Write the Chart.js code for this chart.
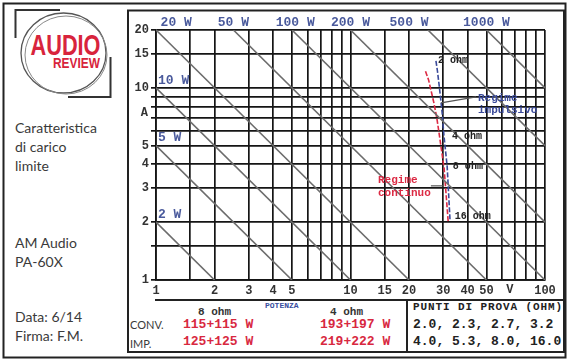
<!DOCTYPE html>
<html>
<head>
<meta charset="utf-8">
<script src="https://cdn.jsdelivr.net/npm/chart.js@4.4.1/dist/chart.umd.min.js"></script>
<style>
  html, body { margin: 0; padding: 0; background: #fff; }
  #wrap { position: relative; width: 569px; height: 361px; overflow: hidden; }
  #frame, #chart { position: absolute; left: 0; top: 0; }
  .t { position: absolute; white-space: nowrap; line-height: 16px; }
  .side { font-family: Lato, "Noto Sans", sans-serif; font-size: 14px; color: #3a3a3a; line-height: 19px; }
  .mono { font-family: "Liberation Mono", "DejaVu Sans Mono", monospace; font-weight: bold; }
  .red { color: #d8283f; }
</style>
</head>
<body>
<div id="wrap">
  <svg id="frame" width="569" height="361">
    <rect x="3.5" y="3.5" width="562" height="354" fill="none" stroke="#222" stroke-width="2"/>
    <rect x="128" y="10.5" width="436" height="341.5" fill="none" stroke="#222" stroke-width="2"/>
    <line x1="155" y1="300" x2="564" y2="300" stroke="#222" stroke-width="2"/>
    <line x1="407" y1="300" x2="407" y2="352" stroke="#222" stroke-width="2"/>
    <!-- logo -->
    <path d="M60 10 H15.5 V38" fill="none" stroke="#333" stroke-width="2"/>
    <path d="M110.5 57 V97 H68" fill="none" stroke="#333" stroke-width="2"/>
    <ellipse cx="63.5" cy="53" rx="42.5" ry="40" fill="none" stroke="#555" stroke-width="1.3"/>
    <ellipse cx="66" cy="55" rx="41" ry="39" fill="none" stroke="#888" stroke-width="1"/>
    <text x="30.5" y="55" textLength="70" lengthAdjust="spacingAndGlyphs" font-family="Liberation Sans, Arial, sans-serif" font-weight="bold" font-size="30" fill="#d8243c">AUDIO</text>
    <text x="53" y="68" textLength="47" lengthAdjust="spacingAndGlyphs" font-family="Liberation Sans, Arial, sans-serif" font-weight="bold" font-size="15" fill="#d8243c">REVIEW</text>
  </svg>

  <div class="t side" style="left:15px; top:118px;">Caratteristica<br>di carico<br>limite</div>
  <div class="t side" style="left:15px; top:233px;">AM Audio<br>PA-60X</div>
  <div class="t side" style="left:15px; top:307px;">Data: 6/14<br>Firma: F.M.</div>

  <div class="t mono" style="left:198px; top:304px; font-size:11px; color:#333;">8 ohm</div>
  <div class="t mono" style="left:265px; top:298px; font-size:8px; color:#3a4fa0;">POTENZA</div>
  <div class="t mono" style="left:330px; top:304px; font-size:11px; color:#333;">4 ohm</div>
  <div class="t mono" style="left:413px; top:299px; font-size:11px; letter-spacing:0.9px; color:#222;">PUNTI DI PROVA (OHM)</div>

  <div class="t side" style="left:130px; top:315px; font-size:11px; line-height:19px;">CONV.<br>IMP.</div>
  <div class="t mono red" style="left:183px; top:317px; font-size:13px;">115+115 W</div>
  <div class="t mono red" style="left:320px; top:317px; font-size:13px;">193+197 W</div>
  <div class="t mono red" style="left:183px; top:334px; font-size:13px;">125+125 W</div>
  <div class="t mono red" style="left:320px; top:334px; font-size:13px;">219+222 W</div>
  <div class="t mono" style="left:413px; top:317px; font-size:13px; color:#222;">2.0, 2.3, 2.7, 3.2</div>
  <div class="t mono" style="left:413px; top:334px; font-size:13px; color:#222;">4.0, 5.3, 8.0, 16.0</div>

  <canvas id="chart" width="569" height="361"></canvas>
</div>

<script>
// grid lines and tick labels
const xGrid = [1, 1.5, 2, 3, 4, 5, 6, 7, 8, 9, 10, 15, 20, 30, 40, 50, 60, 70, 80, 90, 100];
const xLabels = ['1', '', '2', '3', '4', '5', '', '', '', '', '10', '15', '20', '30', '40', '50', '', '', '', '', '100'];
const yGrid = [1, 1.5, 2, 3, 4, 5, 6, 7, 8, 9, 10, 15, 20];
const yLabels = ['1', '', '2', '3', '4', '5', '', '', '', '', '10', '15', '20'];

// constant power lines (watts), end points as [volts, amps]
const powerWatts = [2, 5, 10, 20, 50, 100, 200, 500, 1000];
const powerStart = [[1, 2], [1, 5], [1, 10], [1, 20], [2.5, 20], [5, 20], [10, 20], [25, 20], [50, 20]];
const powerEnd = [[2, 1], [5, 1], [10, 1], [20, 1], [50, 1], [100, 1], [100, 2], [100, 5], [100, 10]];

// measured limit curves at the test loads
const testOhms = [2.0, 2.3, 2.7, 3.2, 4.0, 5.3, 8.0, 16.0];
const impVolts = [27.5, 28.0, 28.5, 29.0, 29.6, 30.2, 31.4, 32.5];
const impAmps = [13.8, 12.2, 10.5, 9.0, 7.4, 5.7, 3.9, 2.03];
const contVolts = [24.3, 25.2, 26.0, 26.8, 27.8, 28.8, 30.3, 31.8];
const contAmps = [12.2, 11.0, 9.6, 8.4, 6.95, 5.45, 3.8, 2.0];

const MONO = '"Liberation Mono", "DejaVu Sans Mono", monospace';
const BLUE = '#3a4a9a';
const RED = '#dc2a44';

const powerDatasets = powerWatts.map((w, i) => ({
  label: w + ' W',
  data: [{ x: powerStart[i][0], y: powerStart[i][1] }, { x: powerEnd[i][0], y: powerEnd[i][1] }],
  borderColor: '#6c6c6c',
  borderWidth: 1.6,
  pointRadius: 0,
}));

const annotations = {
  id: 'annotations',
  afterDatasetsDraw(chart) {
    const { ctx, chartArea, scales: { x, y } } = chart;
    ctx.save();

    // power labels along the top and the left side
    ctx.font = 'bold 13px ' + MONO;
    ctx.fillStyle = '#4a5a9c';
    ctx.textBaseline = 'bottom';
    ctx.textAlign = 'center';
    [['20 W', 1.27], ['50 W', 2.5], ['100 W', 5.2], ['200 W', 10], ['500 W', 20], ['1000 W', 50]]
      .forEach(([txt, v]) => ctx.fillText(txt, x.getPixelForValue(v), chartArea.top - 1));
    ctx.textAlign = 'left';
    [['10 W', 10], ['5 W', 5], ['2 W', 2]]
      .forEach(([txt, a]) => ctx.fillText(txt, chartArea.left + 2, y.getPixelForValue(a) - 1));

    // axis unit letters
    ctx.font = 'bold 12px ' + MONO;
    ctx.fillStyle = '#333';
    ctx.textAlign = 'right';
    ctx.textBaseline = 'middle';
    ctx.fillText('A', chartArea.left - 8, y.getPixelForValue(7.4));
    ctx.textAlign = 'center';
    ctx.textBaseline = 'top';
    ctx.fillText('V', x.getPixelForValue(66), chartArea.bottom + 4);

    // leader lines
    ctx.strokeStyle = '#555';
    ctx.lineWidth = 1.2;
    [[[29.2, 8.35], [44.2, 8.98]], [[25.9, 3.09], [29.9, 3.09]]].forEach(([a, b]) => {
      ctx.beginPath();
      ctx.moveTo(x.getPixelForValue(a[0]), y.getPixelForValue(a[1]));
      ctx.lineTo(x.getPixelForValue(b[0]), y.getPixelForValue(b[1]));
      ctx.stroke();
    });

    // load labels and regime notes
    ctx.textAlign = 'left';
    ctx.textBaseline = 'middle';
    ctx.font = 'bold 10px ' + MONO;
    ctx.fillStyle = '#222';
    [['2 ohm', 28.2, 13.8], ['4 ohm', 33.3, 5.56], ['8 ohm', 33.6, 3.88], ['16 ohm', 34.4, 2.13]]
      .forEach(([txt, v, a]) => ctx.fillText(txt, x.getPixelForValue(v), y.getPixelForValue(a)));
    ctx.font = 'bold 11px ' + MONO;
    ctx.fillStyle = BLUE;
    ctx.fillText('Regime', x.getPixelForValue(45.2), y.getPixelForValue(8.87));
    ctx.fillText('impulsivo', x.getPixelForValue(45.2), y.getPixelForValue(7.68));
    ctx.fillStyle = RED;
    ctx.fillText('Regime', x.getPixelForValue(13.85), y.getPixelForValue(3.32));
    ctx.fillText('continuo', x.getPixelForValue(13.85), y.getPixelForValue(2.84));

    ctx.restore();
  }
};

const ctx = document.getElementById('chart').getContext('2d');
new Chart(ctx, {
  type: 'line',
  data: {
    datasets: [
      ...powerDatasets,
      {
        label: 'Regime impulsivo',
        data: impVolts.map((v, i) => ({ x: v, y: impAmps[i] })),
        borderColor: BLUE,
        borderWidth: 1.6,
        borderDash: [5, 2],
        pointRadius: 0,
      },
      {
        label: 'Regime continuo',
        data: contVolts.map((v, i) => ({ x: v, y: contAmps[i] })),
        borderColor: RED,
        borderWidth: 1.6,
        borderDash: [5, 2],
        pointRadius: 0,
      },
    ]
  },
  options: {
    responsive: false,
    animation: false,
    layout: { autoPadding: false, padding: { left: 130, top: 30, right: 24, bottom: 63 } },
    plugins: { legend: { display: false }, tooltip: { enabled: false } },
    scales: {
      x: {
        type: 'logarithmic',
        min: 1,
        max: 100,
        afterBuildTicks: s => { s.ticks = xGrid.map(v => ({ value: v })); },
        afterFit: s => { s.height = 18; },
        grid: { color: '#151515', lineWidth: 1.7, drawTicks: false },
        border: { color: '#151515', width: 1.7 },
        ticks: {
          autoSkip: false, maxRotation: 0, padding: 4, color: '#333',
          font: { family: MONO, weight: 'bold', size: 12 },
          callback: (v, i) => xLabels[i]
        }
      },
      y: {
        type: 'logarithmic',
        min: 1,
        max: 20,
        afterBuildTicks: s => { s.ticks = yGrid.map(v => ({ value: v })); },
        afterFit: s => { s.width = 26; },
        grid: { color: '#151515', lineWidth: 1.7, tickLength: 5 },
        border: { color: '#151515', width: 1.7 },
        ticks: {
          autoSkip: false, padding: 2, color: '#333',
          font: { family: MONO, weight: 'bold', size: 12 },
          callback: (v, i) => yLabels[i]
        }
      }
    }
  },
  plugins: [annotations]
});
</script>
</body>
</html>
